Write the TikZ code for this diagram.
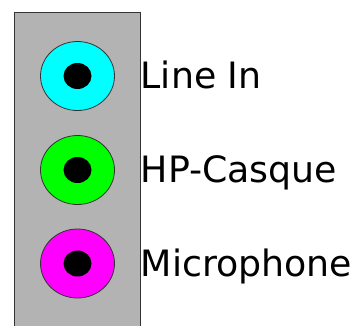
\documentclass[tikz,border=0pt]{standalone}
\usepackage{fontspec}
\setmainfont{DejaVu Sans}
\definecolor{jcyan}{RGB}{0,255,255}
\definecolor{jgreen}{RGB}{0,255,0}
\definecolor{jmag}{RGB}{255,0,255}
\definecolor{panel}{RGB}{179,179,179}
\definecolor{edge}{RGB}{51,51,51}
\begin{document}
\begin{tikzpicture}[x=1pt,y=-1pt,
  jack/.style={draw=edge,line width=0.8pt},
  hole/.style={fill=black},
  lbl/.style={anchor=base west,inner sep=0pt,font=\fontsize{36.3}{40}\selectfont}]
\useasboundingbox (0,0) rectangle (355,325);
\draw[fill=panel,draw=edge,line width=1pt] (14.5,330) -- (14.5,12.5) -- (140.5,12.5) -- (140.5,330);
\filldraw[jack,fill=jcyan] (77.5,76) ellipse [x radius=37, y radius=34.5];
\fill[hole] (77.5,76) ellipse [x radius=14, y radius=13];
\filldraw[jack,fill=jgreen] (77.5,170) ellipse [x radius=37, y radius=34.5];
\fill[hole] (77.5,170) ellipse [x radius=14, y radius=13];
\filldraw[jack,fill=jmag] (77.5,263.5) ellipse [x radius=37, y radius=34.5];
\fill[hole] (77.5,263.5) ellipse [x radius=14, y radius=13];
\node[lbl] (l1) at (140.5,88) {Line In};
\node[lbl] (l2) at (140.5,182) {HP-Casque};
\node[lbl] (l3) at (140.5,276) {Microphone};
\end{tikzpicture}
\end{document}
